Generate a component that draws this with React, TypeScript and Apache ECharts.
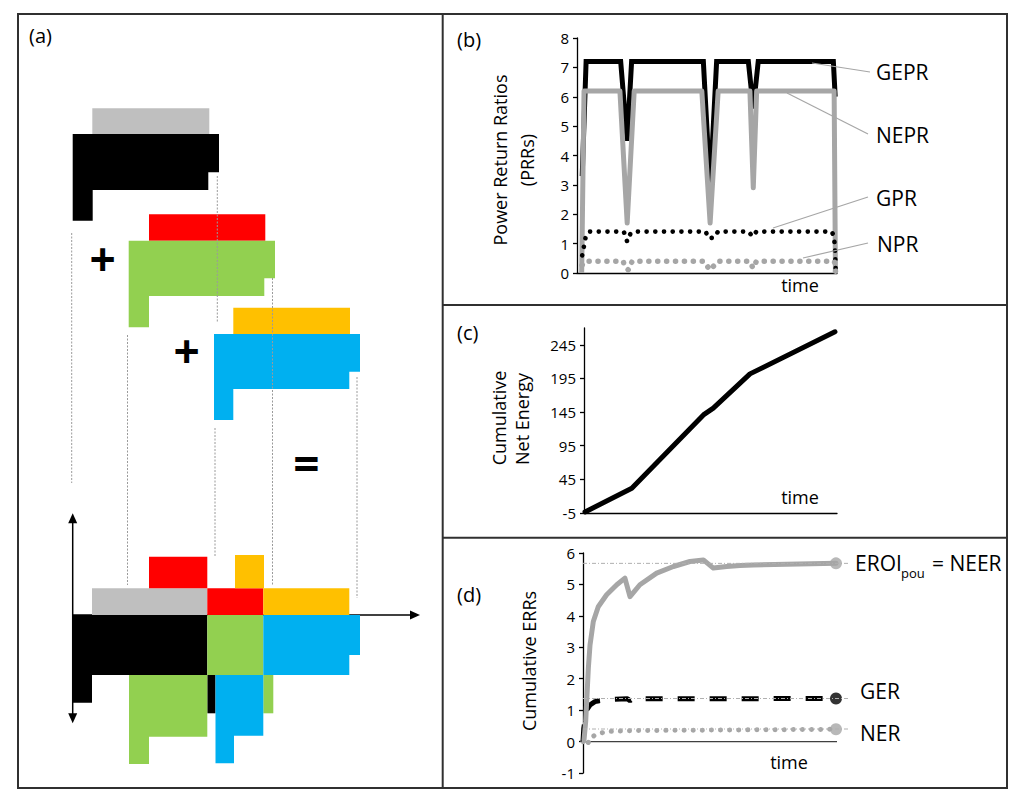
import React, { useEffect, useRef } from 'react';
import * as echarts from 'echarts';

const FONT = "'Open Sans', sans-serif";
const GRAY = '#BFBFBF';
const RED = '#FF0000';
const GREEN = '#92D050';
const GOLD = '#FFC000';
const BLUE = '#00B0F0';
const BLACK = '#000000';
const MID = '#A6A6A6';

// ---------- Panel (a): schematic (diagram units) ----------
const rect = (x1: number, y1: number, x2: number, y2: number) => [[x1, y1], [x2, y1], [x2, y2], [x1, y2]];
const BLOCKS = [
  { color: GRAY, pts: rect(92.3, 108.3, 209.3, 134) },
  { color: BLACK, pts: [[72.7, 134], [219, 134], [219, 172.3], [208.3, 172.3], [208.3, 190], [92.7, 190], [92.7, 220.7], [72.7, 220.7]] },
  { color: RED, pts: rect(149, 214.3, 265.3, 240.7) },
  { color: GREEN, pts: [[128.7, 240.7], [275, 240.7], [275, 278.3], [264.3, 278.3], [264.3, 296], [149, 296], [149, 327.3], [128.7, 327.3]] },
  { color: GOLD, pts: rect(233.3, 307.7, 350, 334) },
  { color: BLUE, pts: [[214, 334], [360, 334], [360, 371.7], [349.3, 371.7], [349.3, 389], [233.3, 389], [233.3, 420], [214, 420]] },
  // combined diagram
  { color: GRAY, pts: rect(92, 588.3, 207.3, 615) },
  { color: RED, pts: rect(149, 556.7, 207.3, 588.3) },
  { color: RED, pts: rect(207.3, 588.3, 263.3, 615) },
  { color: GOLD, pts: rect(235, 555, 264, 588.3) },
  { color: GOLD, pts: rect(263.3, 588.3, 349.3, 615) },
  { color: BLACK, pts: [[72.7, 615], [207.3, 615], [207.3, 675], [92, 675], [92, 702.7], [72.7, 702.7]] },
  { color: BLACK, pts: rect(207.3, 675, 215.5, 713.3) },
  { color: GREEN, pts: rect(207.3, 615, 263.3, 675) },
  { color: GREEN, pts: [[129, 675], [207.3, 675], [207.3, 736.7], [149, 736.7], [149, 764], [129, 764]] },
  { color: GREEN, pts: rect(263.3, 675, 273.3, 713.3) },
  { color: BLUE, pts: [[263.3, 615], [360, 615], [360, 655], [349.3, 655], [349.3, 675], [263.3, 675]] },
  { color: BLUE, pts: [[215.5, 675], [263.3, 675], [263.3, 735.7], [234, 735.7], [234, 763.3], [215.5, 763.3]] },
];
const GUIDES = [
  [71.7, 233, 71.7, 483],
  [127.5, 335, 127.5, 585],
  [217.3, 176, 217.3, 322],
  [215, 428, 215, 557],
  [272.5, 278, 272.5, 585],
  [357, 377, 357, 598],
];
const ARROWS = [
  { x1: 72.7, y1: 723.3, x2: 72.7, y2: 513.3, both: true },
  { x1: 72.7, y1: 615, x2: 420, y2: 615, both: false },
];

// ---------- Panel (b): power return ratios vs time ----------
const GEPR = [[2.0, 3.3], [3.5, 7.2], [16.8, 7.2], [19.3, 4.5], [21.0, 7.2], [48.6, 7.2], [51.2, 2.9], [53.7, 7.2], [65.9, 7.2], [67.8, 5.6], [69.7, 7.2], [98.6, 7.2], [99.3, 6.0]];
const NEPR = [[1.8, 0], [2.7, 6.2], [16.5, 6.2], [19.3, 1.7], [22.0, 6.2], [48.0, 6.2], [51.2, 1.7], [54.3, 6.2], [66.5, 6.2], [67.8, 2.9], [69.1, 6.2], [98.9, 6.2], [99.4, 0]];
const GPR = [[2.0, 0.6], [2.7, 0.92], [3.3, 1.21], [4.6, 1.41], [18.0, 1.41], [19.3, 1.07], [20.6, 1.35], [22.0, 1.41], [49.5, 1.41], [50.6, 1.18], [52.9, 1.21], [54.2, 1.41], [66.0, 1.41], [67.5, 1.24], [69.0, 1.41], [98.0, 1.41], [98.8, 1.24], [99.2, 0.9], [99.5, 0.1]];
const NPR = [[2.0, 0.27], [3.0, 0.4], [17.8, 0.4], [18.3, 0.21], [19.8, 0.1], [21.2, 0.4], [49.0, 0.4], [51.0, 0.1], [52.7, 0.25], [54.0, 0.4], [66.5, 0.4], [67.7, 0.16], [69.0, 0.4], [99.0, 0.4], [99.5, 0]];
const B_LABELS = [
  { text: 'GEPR', x: 876, y: 72, from: [870, 72], to: [812, 63] },
  { text: 'NEPR', x: 876, y: 135, from: [868, 134], to: [787, 93] },
  { text: 'GPR', x: 876, y: 198, from: [868, 197], to: [773, 228] },
  { text: 'NPR', x: 877, y: 244, from: [868, 243], to: [803, 258] },
];

// ---------- Panel (c): cumulative net energy ----------
const NET = [[0.4, -3.5], [18.9, 31.8], [47.2, 140.8], [51.1, 150.8], [65.6, 201.8], [99.2, 264.3]];
const C_TICKS = [-5, 45, 95, 145, 195, 245];

// ---------- Panel (d): cumulative energy return ratios ----------
const NEER = [[0.4, 0.05], [1.06, 0.64], [2.1, 2.33], [2.76, 3.07], [4.06, 3.82], [6.0, 4.29], [9.3, 4.67], [13.3, 4.99], [16.5, 5.2], [18.5, 4.61], [22.4, 4.99], [29.0, 5.36], [35.6, 5.57], [42.1, 5.73], [47.4, 5.78], [51.3, 5.52], [56.6, 5.57], [61.8, 5.6], [67.0, 5.62], [99.6, 5.67]];
const GER = [[0, 0], [0.3, 0.42], [1.4, 1.0], [2.8, 1.17], [4.7, 1.27], [6.4, 1.3], [10, 1.34], [17.5, 1.36], [18.5, 1.3], [19.5, 1.36], [99.6, 1.37]];
const NER = [[0, 0], [1.5, -0.13], [3.0, 0.13], [6.0, 0.25], [9.5, 0.32], [20, 0.35], [60, 0.37], [99.6, 0.39]];
const REF_LEVELS = [5.67, 1.37, 0.4];
const REF_END = 105;
const BASELINE = [[0, 0], [100, 0]];

const txt = (text: string, x: number, y: number, size: number, o: any = {}) => ({
  type: 'text',
  x,
  y,
  rotation: o.rotation || 0,
  z: 100,
  style: {
    text,
    fontSize: size,
    fontFamily: FONT,
    fontWeight: o.weight || 'normal',
    fill: o.fill || '#000',
    align: o.align || 'left',
    textAlign: o.align || 'left',
    verticalAlign: 'middle',
    textVerticalAlign: 'middle',
  },
});
const seg = (x1: number, y1: number, x2: number, y2: number, stroke: string, w: number) => ({
  type: 'line',
  z: 100,
  shape: { x1, y1, x2, y2 },
  style: { stroke, lineWidth: w },
});

const FRAME = '#303030';
const graphics: any[] = [
  { type: 'rect', z: 100, shape: { x: 18, y: 14, width: 989, height: 774 }, style: { fill: 'none', stroke: FRAME, lineWidth: 2 } },
  seg(442.7, 14, 442.7, 788, FRAME, 2),
  seg(442.7, 305, 1007, 305, FRAME, 2),
  seg(442.7, 537.7, 1007, 537.7, FRAME, 2),
  txt('(a)', 29, 35, 20),
  txt('(b)', 457, 39, 20),
  txt('(c)', 457, 332, 20),
  txt('(d)', 457, 594, 20),
  txt('+', 102.7, 257.7, 46, { align: 'center', weight: 'bold' }),
  txt('+', 186.7, 350, 46, { align: 'center', weight: 'bold' }),
  txt('=', 306.5, 462.5, 46, { align: 'center', weight: 'bold' }),
  txt('Power Return Ratios', 500, 160, 18, { align: 'center', rotation: Math.PI / 2 }),
  txt('(PRRs)', 527, 160, 18, { align: 'center', rotation: Math.PI / 2 }),
  txt('Cumulative', 499, 418, 18, { align: 'center', rotation: Math.PI / 2 }),
  txt('Net Energy', 522, 419, 18, { align: 'center', rotation: Math.PI / 2 }),
  txt('Cumulative ERRs', 529, 661, 18, { align: 'center', rotation: Math.PI / 2 }),
  txt('time', 800, 285, 18, { align: 'center' }),
  txt('time', 800, 497, 18, { align: 'center' }),
  txt('time', 789, 761.5, 18, { align: 'center' }),
  txt('EROI', 855, 563, 21),
  txt('pou', 901, 573, 13),
  txt('= NEER', 932, 563, 21),
  txt('GER', 860, 690.5, 21),
  txt('NER', 860, 732.5, 21),
];
B_LABELS.forEach((l) => {
  graphics.push(txt(l.text, l.x, l.y, 21));
  graphics.push(seg(l.from[0], l.from[1], l.to[0], l.to[1], MID, 1.2));
});

const axisLine = { show: true, onZero: false, lineStyle: { color: '#000', width: 1.3 } };
const hiddenX = (gridIndex: number, max: number, showLine: boolean) => ({
  gridIndex,
  type: 'value',
  min: 0,
  max,
  axisLine: { ...axisLine, show: showLine },
  axisTick: { show: false },
  axisLabel: { show: false },
  splitLine: { show: false },
});
const yLabel = { fontSize: 15, color: '#000', fontFamily: FONT, margin: 8 };

const option: any = {
  animation: false,
  backgroundColor: '#fff',
  graphic: { elements: graphics },
  grid: [
    { left: 0, top: 0, width: 442, height: 788 },
    { left: 577, top: 38, width: 260, height: 235 },
    { left: 584, top: 328, width: 253, height: 185 },
    { left: 583, top: 553, width: 266.7, height: 220 },
  ],
  xAxis: [
    { gridIndex: 0, type: 'value', min: 0, max: 442, show: false },
    hiddenX(1, 100, true),
    hiddenX(2, 100, true),
    hiddenX(3, REF_END, false),
  ],
  yAxis: [
    { gridIndex: 0, type: 'value', min: 0, max: 788, inverse: true, show: false },
    {
      gridIndex: 1, type: 'value', min: 0, max: 8, interval: 1,
      axisLine, axisTick: { show: true, length: 4, lineStyle: { color: '#000', width: 1.3 } },
      axisLabel: yLabel, splitLine: { show: false },
    },
    {
      gridIndex: 2, type: 'value', min: -5, max: 270,
      axisLine, axisTick: { show: true, length: 4, customValues: C_TICKS, lineStyle: { color: '#000', width: 1.3 } },
      axisLabel: { ...yLabel, customValues: C_TICKS }, splitLine: { show: false },
    },
    {
      gridIndex: 3, type: 'value', min: -1, max: 6, interval: 1,
      axisLine, axisTick: { show: true, length: 4, lineStyle: { color: '#000', width: 1.3 } },
      axisLabel: yLabel, splitLine: { show: false },
    },
  ],
  series: [
    {
      type: 'custom', xAxisIndex: 0, yAxisIndex: 0, z: 1, silent: true,
      data: ARROWS.map((_, i) => [i, 0]),
      renderItem: (_p: any, api: any) => {
        const a = ARROWS[api.value(0)];
        const p1 = api.coord([a.x1, a.y1]);
        const p2 = api.coord([a.x2, a.y2]);
        const dx = p2[0] - p1[0], dy = p2[1] - p1[1];
        const L = Math.hypot(dx, dy);
        const ux = dx / L, uy = dy / L;
        const len = 10, w = 4.5;
        const head = (tip: number[], sx: number, sy: number) => {
          const bx = tip[0] - sx * len, by = tip[1] - sy * len;
          return { type: 'polygon', shape: { points: [tip, [bx - sy * w, by + sx * w], [bx + sy * w, by - sx * w]] }, style: { fill: '#000' } };
        };
        const s = a.both ? [p1[0] + ux * (len - 1), p1[1] + uy * (len - 1)] : p1;
        const e = [p2[0] - ux * (len - 1), p2[1] - uy * (len - 1)];
        const children: any[] = [
          { type: 'line', shape: { x1: s[0], y1: s[1], x2: e[0], y2: e[1] }, style: { stroke: '#000', lineWidth: 1.5 } },
          head(p2, ux, uy),
        ];
        if (a.both) children.push(head(p1, -ux, -uy));
        return { type: 'group', children };
      },
    },
    {
      type: 'custom', xAxisIndex: 0, yAxisIndex: 0, z: 2, silent: true,
      data: BLOCKS.map((_, i) => [i, 0]),
      renderItem: (_p: any, api: any) => {
        const b = BLOCKS[api.value(0)];
        return { type: 'polygon', shape: { points: b.pts.map((p) => api.coord(p)) }, style: { fill: b.color } };
      },
    },
    {
      type: 'custom', xAxisIndex: 0, yAxisIndex: 0, z: 3, silent: true,
      data: GUIDES.map((_, i) => [i, 0]),
      renderItem: (_p: any, api: any) => {
        const g = GUIDES[api.value(0)];
        const p1 = api.coord([g[0], g[1]]);
        const p2 = api.coord([g[2], g[3]]);
        return { type: 'line', shape: { x1: p1[0], y1: p1[1], x2: p2[0], y2: p2[1] }, style: { stroke: '#9a9a9a', lineWidth: 1, lineDash: [2, 1.5] } };
      },
    },
    // (b)
    { type: 'line', xAxisIndex: 1, yAxisIndex: 1, data: GEPR, symbol: 'none', z: 3, lineStyle: { color: BLACK, width: 5, join: 'miter' } },
    { type: 'line', xAxisIndex: 1, yAxisIndex: 1, data: NEPR, symbol: 'none', z: 4, lineStyle: { color: MID, width: 5, join: 'round' } },
    { type: 'line', xAxisIndex: 1, yAxisIndex: 1, data: GPR, symbol: 'none', z: 5, lineStyle: { color: BLACK, width: 4.6, type: [0.1, 8.6], cap: 'round' } },
    { type: 'line', xAxisIndex: 1, yAxisIndex: 1, data: NPR, symbol: 'none', z: 5, lineStyle: { color: MID, width: 5.5, type: [0.1, 8.8], cap: 'round' } },
    // (c)
    { type: 'line', xAxisIndex: 2, yAxisIndex: 2, data: NET, symbol: 'none', z: 3, lineStyle: { color: BLACK, width: 5, cap: 'round', join: 'round' } },
    // (d)
    { type: 'line', xAxisIndex: 3, yAxisIndex: 3, data: BASELINE, symbol: 'none', z: 2, lineStyle: { color: '#404040', width: 1.3 } },
    { type: 'line', xAxisIndex: 3, yAxisIndex: 3, data: NER, symbol: 'none', z: 3, lineStyle: { color: MID, width: 5, type: [0.1, 9], cap: 'round' } },
    { type: 'line', xAxisIndex: 3, yAxisIndex: 3, data: GER, symbol: 'none', z: 3, lineStyle: { color: BLACK, width: 5, type: [17, 15] } },
    { type: 'line', xAxisIndex: 3, yAxisIndex: 3, data: NEER, symbol: 'none', z: 4, lineStyle: { color: MID, width: 5, cap: 'round', join: 'round' } },
    ...REF_LEVELS.map((v) => ({
      type: 'line', xAxisIndex: 3, yAxisIndex: 3, data: [[0, v], [REF_END, v]], symbol: 'none', z: 6,
      lineStyle: { color: '#B0B0B0', width: 1, type: [4, 2, 1, 2] },
    })),
    {
      type: 'scatter', xAxisIndex: 3, yAxisIndex: 3, symbol: 'circle', symbolSize: 12, z: 5,
      data: [
        { value: NEER[NEER.length - 1], itemStyle: { color: MID } },
        { value: GER[GER.length - 1], itemStyle: { color: BLACK } },
        { value: NER[NER.length - 1], itemStyle: { color: MID } },
      ],
    },
  ],
};

export default function App() {
  const ref = useRef<HTMLDivElement>(null);
  useEffect(() => {
    const chart = echarts.init(ref.current as HTMLDivElement, null, { renderer: 'svg' });
    chart.setOption(option);
    return () => chart.dispose();
  }, []);
  return <div ref={ref} style={{ position: 'absolute', left: 0, top: 0, width: 1024, height: 807, background: '#fff' }} />;
}
